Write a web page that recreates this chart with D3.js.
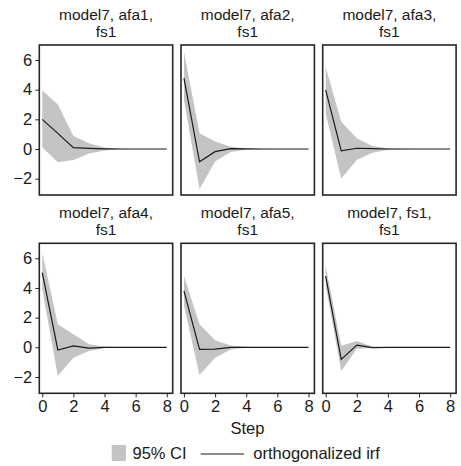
<!DOCTYPE html>
<html>
<head>
<meta charset="utf-8">
<script src="https://cdn.jsdelivr.net/npm/d3@7"></script>
<style>
  body { margin: 0; background: #fff; }
  text { font-family: "Liberation Sans", Arial, sans-serif; fill: #1a1a1a; }
</style>
</head>
<body>
<svg id="chart" width="461" height="466"></svg>
<script>
// panel titles (two lines each)
const titles = [
  ["model7, afa1,", "fs1"], ["model7, afa2,", "fs1"], ["model7, afa3,", "fs1"],
  ["model7, afa4,", "fs1"], ["model7, afa5,", "fs1"], ["model7, fs1,", "fs1"]
];

const steps = [0, 1, 2, 3, 4, 5, 6, 7, 8];

// orthogonalized irf per panel
const irf = [
  [2.0, 1.05, 0.09, 0.04, 0.01, 0, 0, 0, 0],
  [4.77, -0.86, -0.18, 0.03, 0.01, 0, 0, 0, 0],
  [3.98, -0.13, 0.05, 0.02, 0.0, 0, 0, 0, 0],
  [5.03, -0.18, 0.09, -0.05, -0.01, 0, 0, 0, 0],
  [3.8, -0.14, -0.12, 0.0, 0.0, 0, 0, 0, 0],
  [4.8, -0.81, 0.15, -0.02, 0.0, 0, 0, 0, 0]
];

// 95% CI bounds per panel
const ciUpper = [
  [3.95, 3.0, 0.88, 0.38, 0.1, 0.02, 0, 0, 0],
  [6.56, 1.06, 0.5, 0.16, 0.04, 0.01, 0, 0, 0],
  [5.55, 1.84, 0.72, 0.2, 0.05, 0.01, 0, 0, 0],
  [6.38, 1.55, 0.88, 0.2, 0.05, 0.01, 0, 0, 0],
  [4.8, 1.55, 0.47, 0.12, 0.03, 0.01, 0, 0, 0],
  [5.48, 0.1, 0.42, 0.05, 0.01, 0, 0, 0, 0]
];
const ciLower = [
  [0.12, -0.9, -0.74, -0.3, -0.1, -0.02, 0, 0, 0],
  [3.3, -2.7, -0.85, -0.2, -0.05, -0.01, 0, 0, 0],
  [2.4, -1.98, -0.74, -0.25, -0.05, -0.01, 0, 0, 0],
  [3.9, -1.94, -0.7, -0.25, -0.05, -0.01, 0, 0, 0],
  [2.8, -1.87, -0.7, -0.15, -0.02, 0, 0, 0, 0],
  [4.15, -1.6, -0.1, -0.05, -0.01, 0, 0, 0, 0]
];

const xTicks = [0, 2, 4, 6, 8];
const yTicks = [-2, 0, 2, 4, 6];

// layout
const panelLefts = [39.3, 181, 322.7];
const panelTops = [45, 243.3];
const panelW = 133.4;
const panelH = 150;
const fontSize = 16.5;
const titleSize = 15.5;

const svg = d3.select("#chart");

const x = d3.scaleLinear().domain([-0.19, 8.38]).range([0, panelW]);
const y = d3.scaleLinear().domain([-3.1, 7.01]).range([panelH, 0]);

titles.forEach((t, i) => {
  const col = i % 3, row = Math.floor(i / 3);
  const g = svg.append("g")
    .attr("transform", `translate(${panelLefts[col]},${panelTops[row]})`);

  const pts = steps.map((s, k) => ({ s, lo: ciLower[i][k], hi: ciUpper[i][k], v: irf[i][k] }));

  g.append("path")
    .datum(pts)
    .attr("fill", "#c4c4c4")
    .attr("d", d3.area().x(d => x(d.s)).y0(d => y(d.lo)).y1(d => y(d.hi)));

  g.append("path")
    .datum(pts)
    .attr("fill", "none")
    .attr("stroke", "#1a1a1a")
    .attr("stroke-width", 1.2)
    .attr("d", d3.line().x(d => x(d.s)).y(d => y(d.v)));

  g.append("rect")
    .attr("width", panelW).attr("height", panelH)
    .attr("fill", "none").attr("stroke", "#262626").attr("stroke-width", 1.6);

  // title, two separate lines
  t.forEach((line, k) => {
    g.append("text")
      .attr("text-anchor", "middle")
      .attr("font-size", titleSize)
      .attr("x", panelW / 2)
      .attr("y", -25.5 + k * 17.5)
      .text(line);
  });

  if (col === 0) {
    const ya = g.append("g")
      .call(d3.axisLeft(y).tickValues(yTicks).tickSize(4).tickPadding(3)
        .tickFormat(d => d < 0 ? "\u2212" + Math.abs(d) : d));
    ya.select(".domain").remove();
    ya.selectAll(".tick line").attr("stroke", "#262626");
    ya.selectAll(".tick text").attr("font-size", fontSize).attr("font-family", null).attr("fill", "#1a1a1a");
  }
  if (row === 1) {
    const xa = g.append("g")
      .attr("transform", `translate(0,${panelH})`)
      .call(d3.axisBottom(x).tickValues(xTicks).tickSize(4).tickPadding(3));
    xa.select(".domain").remove();
    xa.selectAll(".tick line").attr("stroke", "#262626");
    xa.selectAll(".tick text").attr("font-size", fontSize).attr("font-family", null).attr("fill", "#1a1a1a");
  }
});

// x axis title
svg.append("text")
  .attr("x", 247.5).attr("y", 434)
  .attr("text-anchor", "middle")
  .attr("font-size", fontSize)
  .text("Step");

// legend
svg.append("rect")
  .attr("x", 111.7).attr("y", 445).attr("width", 14.3).attr("height", 16)
  .attr("fill", "#c4c4c4");
svg.append("text")
  .attr("x", 132.5).attr("y", 459)
  .attr("font-size", fontSize)
  .text("95% CI");
svg.append("line")
  .attr("x1", 200.7).attr("x2", 244).attr("y1", 454).attr("y2", 454)
  .attr("stroke", "#1a1a1a").attr("stroke-width", 1.2);
svg.append("text")
  .attr("x", 253.3).attr("y", 459)
  .attr("font-size", fontSize)
  .text("orthogonalized irf");
</script>
</body>
</html>
